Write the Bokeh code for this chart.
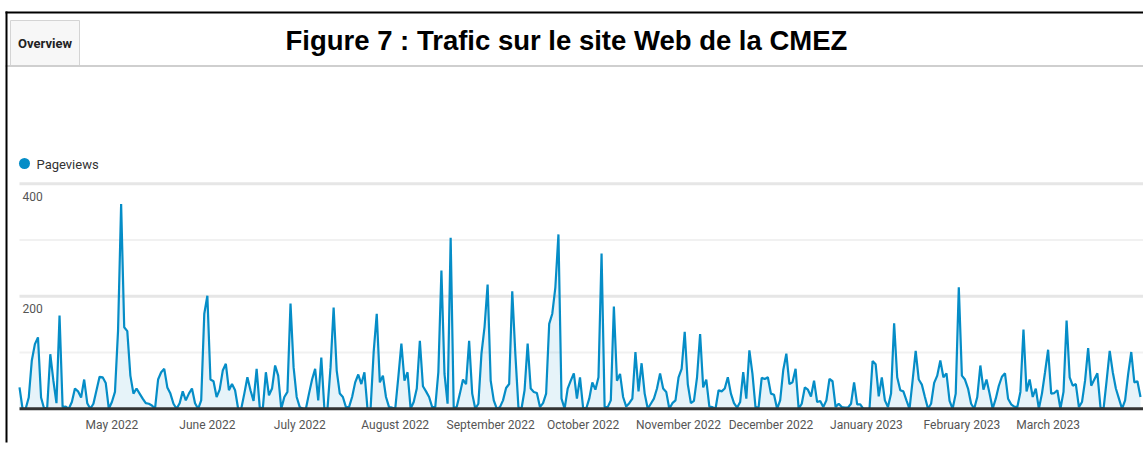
import pandas as pd
from bokeh.plotting import figure
from bokeh.models import ColumnDataSource, Range1d, FixedTicker, DatetimeTickFormatter
from bokeh.core.properties import value
from bokeh.embed import file_html
from bokeh.resources import INLINE

# ---------------- data (daily pageviews) ----------------
start_date = "2022-04-01"
apr_2022 = [38, 0, 0, 20, 86, 115, 127, 20, 0, 3, 97, 50, 10, 166, 3, 4, 0, 12, 36, 31,
            20, 52, 10, 0, 9, 33, 57, 56, 46, 0]
may_2022 = [12, 30, 139, 364, 145, 138, 59, 27, 36, 27, 18, 10, 9, 6, 0, 52, 65, 71, 38, 27,
            9, 0, 10, 31, 15, 27, 36, 10, 0, 15, 169]
jun_2022 = [201, 52, 49, 21, 34, 68, 80, 33, 44, 33, 0, 0, 27, 56, 33, 14, 71, 3, 0, 65,
            24, 36, 77, 59, 0, 21, 30, 187, 74, 21]
jul_2022 = [3, 0, 0, 27, 52, 71, 15, 91, 0, 0, 74, 180, 68, 27, 21, 3, 3, 21, 47, 61,
            44, 65, 0, 0, 101, 169, 47, 59, 21, 3, 2]
aug_2022 = [0, 56, 116, 50, 65, 0, 12, 36, 121, 40, 31, 21, 3, 3, 65, 246, 62, 9, 304, 0,
            4, 27, 52, 44, 121, 27, 0, 9, 98, 145, 221]
sep_2022 = [50, 15, 0, 3, 15, 37, 44, 209, 98, 3, 0, 33, 116, 36, 30, 28, 3, 10, 27, 151,
            169, 216, 310, 18, 0, 36, 50, 63, 18, 56]
oct_2022 = [2, 0, 18, 47, 34, 56, 276, 3, 3, 15, 182, 50, 62, 21, 4, 10, 18, 101, 31, 81,
            27, 0, 9, 18, 36, 63, 36, 30, 0, 10, 15]
nov_2022 = [56, 71, 137, 44, 10, 14, 56, 133, 38, 52, 4, 3, 0, 33, 31, 36, 56, 27, 10, 2,
            12, 65, 18, 104, 62, 2, 3, 55, 53, 56]
dec_2022 = [27, 25, 0, 15, 69, 98, 44, 47, 71, 0, 9, 38, 34, 22, 50, 12, 14, 3, 15, 53,
            49, 3, 9, 3, 2, 2, 9, 47, 8, 8, 0]
jan_2023 = [0, 0, 85, 79, 22, 56, 15, 3, 27, 152, 56, 33, 31, 15, 0, 50, 103, 52, 43, 21,
            0, 9, 46, 59, 86, 56, 63, 14, 0, 27, 216]
feb_2023 = [59, 52, 36, 9, 0, 21, 77, 34, 52, 27, 0, 18, 41, 57, 63, 18, 8, 4, 3, 30,
            141, 31, 52, 21, 36, 0, 27, 65]
mar_2023 = [105, 27, 28, 33, 0, 30, 157, 56, 41, 44, 3, 12, 50, 108, 41, 52, 63, 3, 0, 50,
            103, 65, 36, 18, 0, 15, 62, 101, 47, 49, 21]

month_ticks = ["2022-05-01", "2022-06-01", "2022-07-01", "2022-08-01", "2022-09-01",
               "2022-10-01", "2022-11-01", "2022-12-01", "2023-01-01", "2023-02-01",
               "2023-03-01"]
grid_values = [100, 200, 300, 400]
y_tick_values = [400, 200]
y_tick_labels = ["400", "200"]
series_name = "Pageviews"
title_text = "Figure 7 : Trafic sur le site Web de la CMEZ"
tab_text = "Overview"

views = (apr_2022 + may_2022 + jun_2022 + jul_2022 + aug_2022 + sep_2022 + oct_2022
         + nov_2022 + dec_2022 + jan_2023 + feb_2023 + mar_2023)
dates = pd.date_range(start_date, periods=len(views), freq="D")
source = ColumnDataSource(dict(date=dates, views=views))

# ---------------- layout (page pixel coordinates) ----------------
W, H = 1143, 458
AXIS_H = 16                       # bottom panel reserved for the month axis
FB = H - AXIS_H                   # frame bottom (page px); frame top is 0
X_FIRST, X_LAST = 19, 1140        # page x of first / last day
Y_ZERO, Y_400 = 408.3, 183.3      # page y of value 0 / 400
ppd = (X_LAST - X_FIRST) / (len(views) - 1)   # px per day
ppu = (Y_ZERO - Y_400) / 400.0                # px per pageview

BLUE = "#058dc7"
UI = "Roboto"


def X(px):
    return dates[0] + pd.Timedelta(days=(px - X_FIRST) / ppd)


def Y(py):
    return (Y_ZERO - py) / ppu


p = figure(width=W, height=H, x_axis_type="datetime", y_axis_type=None,
           x_range=Range1d(X(0), X(W)), y_range=Range1d(Y(FB), Y(0)),
           output_backend="svg", toolbar_location=None,
           min_border_left=0, min_border_right=0, min_border_top=0,
           min_border_bottom=AXIS_H)
p.outline_line_color = None
p.background_fill_color = "white"
p.border_fill_color = "white"
p.xgrid.visible = False

# ---- screenshot chrome: tab, separator, black borders ----
p.quad(left=[X(10)], right=[X(79)], top=[Y(20)], bottom=[Y(65.5)],
       fill_color="#f7f7f7", line_color="#d4d4d4", line_width=1)
p.quad(left=[X(5)], right=[X(W)], top=[Y(64.5)], bottom=[Y(66.5)],
       fill_color="#cfcfcf", line_color=None)
p.quad(left=[X(5)], right=[X(W)], top=[Y(11)], bottom=[Y(13)],
       fill_color="black", line_color=None)
p.quad(left=[X(5)], right=[X(7)], top=[Y(11)], bottom=[Y(H)],
       fill_color="black", line_color=None)

# ---- grid lines ----
for g in grid_values:
    strong = g in y_tick_values
    p.segment(x0=[dates[0]], x1=[X(W)], y0=[g], y1=[g],
              line_color="#e6e6e6" if strong else "#f1f1f1",
              line_width=3 if strong else 2)

# ---- area + line ----
p.varea(x="date", y1=0, y2="views", source=source, fill_color=BLUE, fill_alpha=0.1)
p.line(x="date", y="views", source=source, line_color=BLUE, line_width=2.2)

# ---- baseline ----
p.segment(x0=[dates[0]], x1=[X(W)], y0=[0], y1=[0], line_color="#333333", line_width=3)

# ---- y labels (under their grid line) ----
p.text(x=[dates[0]] * len(y_tick_values), y=y_tick_values, text=y_tick_labels,
       x_offset=3, y_offset=8, text_baseline="top", text_align="left",
       text_font=value(UI), text_font_size="12px", text_color="#555555")

# ---- legend ----
p.scatter(x=[X(24)], y=[Y(163)], marker="circle", size=11, fill_color=BLUE, line_color=None)
p.text(x=[X(36)], y=[Y(163.5)], text=[series_name], text_baseline="middle",
       text_align="left", text_font=value(UI), text_font_size="13px", text_color="#333333")

# ---- tab label and title ----
p.text(x=[X(44.5)], y=[Y(43)], text=[tab_text], text_baseline="middle", text_align="center",
       text_font=value(UI), text_font_style="bold", text_font_size="13px",
       text_color="#222222")
p.text(x=[X(285)], y=[Y(39.5)], text=[title_text], text_baseline="middle",
       text_align="left", text_font=value("Liberation Sans"), text_font_style="bold",
       text_font_size="27.5px", text_color="black")

# ---- x axis (month labels) drawn at the baseline ----
ax = p.xaxis[0]
ax.fixed_location = Y(417.5)
ax.ticker = FixedTicker(ticks=[pd.Timestamp(t).value // 10**6 for t in month_ticks])
fmt = "%B %Y"
ax.formatter = DatetimeTickFormatter(microseconds=fmt, milliseconds=fmt, seconds=fmt,
                                     minsec=fmt, minutes=fmt, hourmin=fmt, hours=fmt,
                                     days=fmt, months=fmt, years=fmt)
ax.axis_line_color = None
ax.major_tick_line_color = None
ax.minor_tick_line_color = None
ax.major_tick_out = 0
ax.major_tick_in = 0
ax.major_label_standoff = 0
ax.major_label_text_font = UI
ax.major_label_text_font_size = "12px"
ax.major_label_text_color = "#555555"

open("out.html", "w").write(file_html(p, INLINE))
